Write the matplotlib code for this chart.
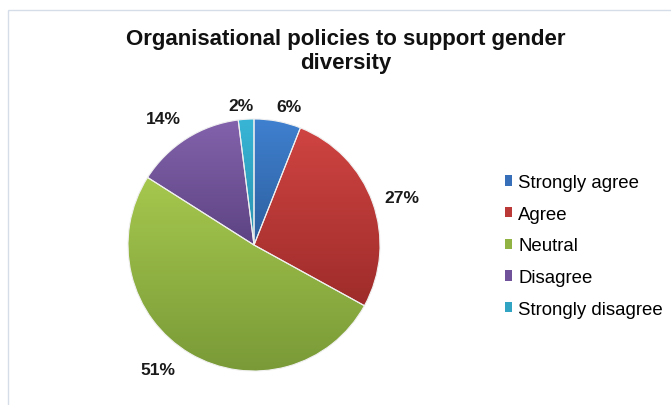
import numpy as np
import matplotlib
matplotlib.use("Agg")
import matplotlib.pyplot as plt
from matplotlib.patches import Rectangle, Patch
from matplotlib.colors import LinearSegmentedColormap

plt.rcParams['font.family'] = ['Liberation Sans', 'DejaVu Sans']

# data
categories = ["Strongly agree", "Agree", "Neutral", "Disagree", "Strongly disagree"]
shares = [6, 27, 51, 14, 2]
top_colors = ["#3f80cf", "#cf4442", "#a6c84e", "#8363ac", "#38b5d6"]
bottom_colors = ["#2d5f9e", "#9e2c2a", "#799a37", "#5d4383", "#2a91ae"]
mid_colors = ["#376fb8", "#bb3a38", "#91b343", "#6f529a", "#31a3c3"]

# label placement (Excel "outside end"), angle nudge in degrees and radius
label_shift = [3.3, 1.8, 7.0, -3.3, -1.7]
label_radius = [1.13, 1.23, 1.25, 1.235, 1.115]

fig = plt.figure(figsize=(6.71, 4.06), dpi=100)

# chart frame
fig.patches.append(Rectangle((8 / 671, -0.05), 1.0, 1 - 11 / 406 + 0.05,
                             transform=fig.transFigure, fill=False,
                             edgecolor="#d5dde8", linewidth=1.0))

cx, cy, r = 254, 406 - 246, 126
ax = fig.add_axes([(cx - r) / 671, (cy - r) / 406, 2 * r / 671, 2 * r / 406])

wedges, _ = ax.pie(shares, startangle=90, counterclock=False, radius=1,
                   colors=mid_colors,
                   wedgeprops=dict(edgecolor="#f0f0f0", linewidth=0.8))

# top-to-bottom gradient inside each wedge
for w, c1, c2 in zip(wedges, top_colors, bottom_colors):
    ext = w.get_path().get_extents()
    cmap = LinearSegmentedColormap.from_list("g", [c2, c1])
    grad = np.linspace(0, 1, 256).reshape(-1, 1)
    im = ax.imshow(grad, cmap=cmap, origin="lower", aspect="auto",
                   extent=[ext.x0, ext.x1, ext.y0, ext.y1], zorder=1)
    im.set_clip_path(w)
    w.set_facecolor("none")
    w.set_zorder(2)

# percentage labels
total = sum(shares)
start = 0
for v, sh, rad in zip(shares, label_shift, label_radius):
    mid = (start + v / 2) / total * 360 + sh
    start += v
    a = np.deg2rad(mid)
    ax.text(rad * np.sin(a), rad * np.cos(a), f"{v}%", ha="center",
            va="center", fontsize=12.6, fontweight="bold",
            color="#1a1a1a")

ax.set_xlim(-1, 1)
ax.set_ylim(-1, 1)
ax.set_aspect("equal")
ax.axis("off")

fig.text(346 / 671, 1 - 29 / 406, "Organisational policies to support gender\ndiversity",
         ha="center", va="top", fontsize=16, fontweight="bold",
         linespacing=1.2, color="#111111")

handles = [Patch(facecolor=c, edgecolor="none") for c in mid_colors]
fig.legend(handles, categories, loc="center left",
           bbox_to_anchor=(505 / 671, 1 - 247 / 406), frameon=False,
           fontsize=13.4, handlelength=0.37, handleheight=0.47,
           handletextpad=0.35, labelspacing=0.79, borderpad=0,
           borderaxespad=0)

fig.savefig("out.png", dpi=100)
